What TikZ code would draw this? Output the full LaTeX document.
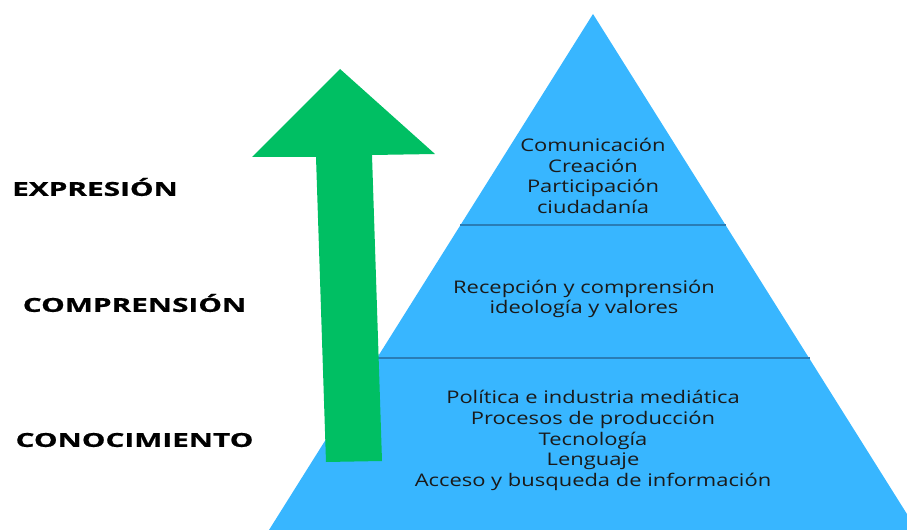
\documentclass[tikz,border=0pt]{standalone}
\usepackage{fontspec}
\setmainfont{Open Sans}
\newfontfamily\levelfont[FakeStretch=1.26]{Open Sans}
\newfontfamily\tagfont[FakeStretch=1.55,FakeBold=0.8]{Open Sans Bold}
\definecolor{pyrblue}{HTML}{38B6FF}
\definecolor{arrgreen}{HTML}{00BF63}
\definecolor{lineblue}{HTML}{2A7DB5}
\definecolor{txtdark}{HTML}{1A1A1A}
\tikzset{
  level/.style={align=center, text=txtdark, font=\levelfont\fontsize{17.4bp}{20.7bp}\selectfont},
  tag/.style={text=black, font=\tagfont\fontsize{19.2bp}{22bp}\selectfont}
}
\begin{document}
\begin{tikzpicture}[x=1bp,y=-1bp]
\useasboundingbox (0,0) rectangle (907,530);
\clip (0,0) rectangle (907,530);
\fill[pyrblue] (593,14) -- (269,530) -- (917,530) -- cycle;
\draw[lineblue, line width=1.2bp] (460,225) -- (726,225);
\draw[lineblue, line width=1.2bp] (377,358) -- (810,358);
\fill[arrgreen] (340,69) -- (435,154) -- (372,155) -- (382,461) -- (326,462) -- (316,157) -- (252,157) -- cycle;
\node[level] (top) at (593,176) {Comunicación\\Creación\\Participación\\ciudadanía};
\node[level] (mid) at (584,299) {Recepción y comprensión\\ideología y valores};
\node[level] (low) at (593,440.5) {Política e industria mediática\\Procesos de producción\\Tecnología\\Lenguaje\\Acceso y busqueda de información};
\node[tag] (a) at (95,187) {EXPRESIÓN};
\node[tag] (b) at (134.5,303) {COMPRENSIÓN};
\node[tag] (c) at (134.5,440) {CONOCIMIENTO};
\end{tikzpicture}
\end{document}
